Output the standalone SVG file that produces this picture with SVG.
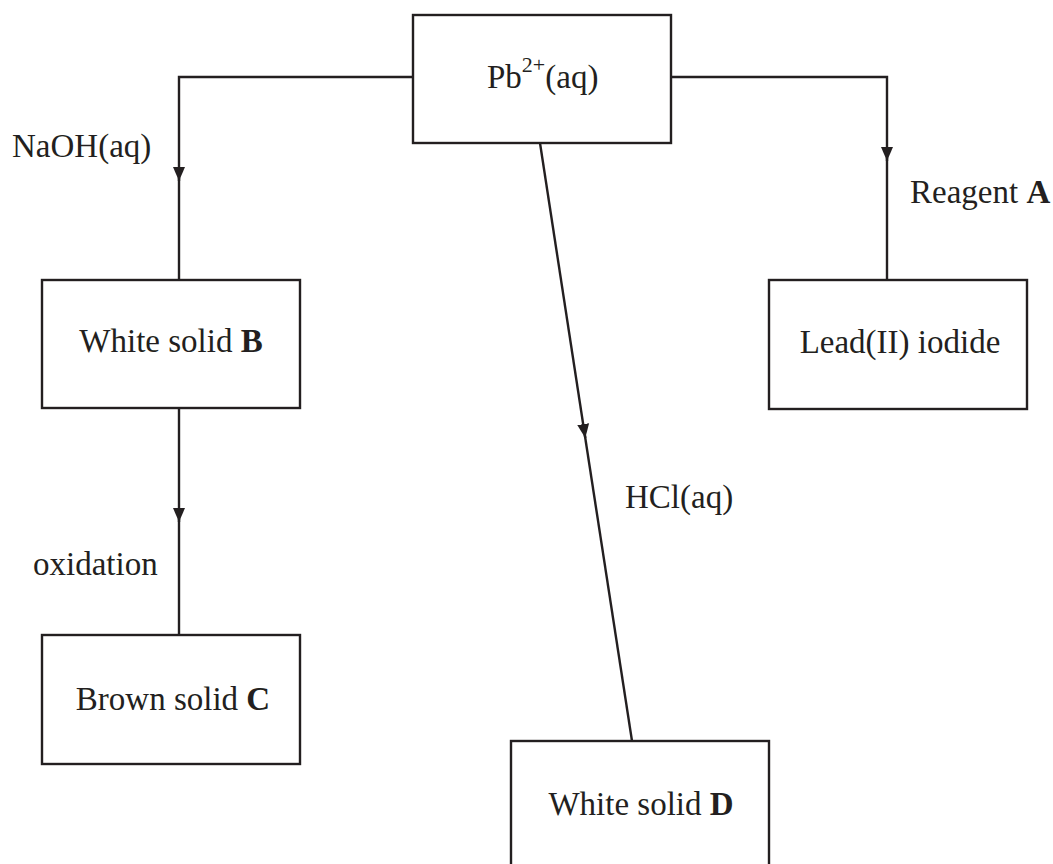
<svg xmlns="http://www.w3.org/2000/svg" width="1053" height="864" viewBox="0 0 1053 864">
<style>
.box{fill:#fff;stroke:#231f20;stroke-width:2.4}
.ln{fill:none;stroke:#231f20;stroke-width:2.4}
.t{font-family:"Liberation Serif","Times New Roman",serif;font-size:33px;fill:#231f20}
.b{font-weight:bold}
</style>
<defs>
<marker id="arr" markerUnits="userSpaceOnUse" markerWidth="14" markerHeight="16" refX="14" refY="6" orient="auto" viewBox="0 0 14 12">
<path d="M0,0 L14,6 L0,12 Z" fill="#231f20"/>
</marker>
</defs>
<rect width="1053" height="864" fill="#fff"/>
<g id="connectors">
<path class="ln" d="M413,77 H179 V181" marker-end="url(#arr)"/>
<path class="ln" d="M179,178 V280"/>
<path class="ln" d="M671,77 H887 V161" marker-end="url(#arr)"/>
<path class="ln" d="M887,158 V280"/>
<path class="ln" d="M179,408 V522" marker-end="url(#arr)"/>
<path class="ln" d="M179,519 V635"/>
<path class="ln" d="M540,143 L585.3,438" marker-end="url(#arr)"/>
<path class="ln" d="M584.8,435 L632,741"/>
</g>
<g id="node-pb">
<rect class="box" x="413" y="15" width="258" height="128"/>
<text class="t" x="487" y="88">Pb<tspan font-size="22" dy="-16">2+</tspan><tspan dy="16">(aq)</tspan></text>
</g>
<g id="node-b">
<rect class="box" x="42" y="280" width="258" height="128"/>
<text class="t" x="171" y="352" text-anchor="middle">White solid <tspan class="b">B</tspan></text>
</g>
<g id="node-c">
<rect class="box" x="42" y="635" width="258" height="129"/>
<text class="t" x="173" y="710" text-anchor="middle">Brown solid <tspan class="b">C</tspan></text>
</g>
<g id="node-lead">
<rect class="box" x="769" y="280" width="258" height="129"/>
<text class="t" x="900" y="353" text-anchor="middle">Lead(II) iodide</text>
</g>
<g id="node-d">
<rect class="box" x="511" y="741" width="258" height="135"/>
<text class="t" x="641" y="815" text-anchor="middle">White solid <tspan class="b">D</tspan></text>
</g>
<g id="labels">
<text class="t" x="12" y="157">NaOH(aq)</text>
<text class="t" x="910" y="203">Reagent <tspan class="b">A</tspan></text>
<text class="t" x="33" y="575">oxidation</text>
<text class="t" x="625" y="508">HCl(aq)</text>
</g>
</svg>
